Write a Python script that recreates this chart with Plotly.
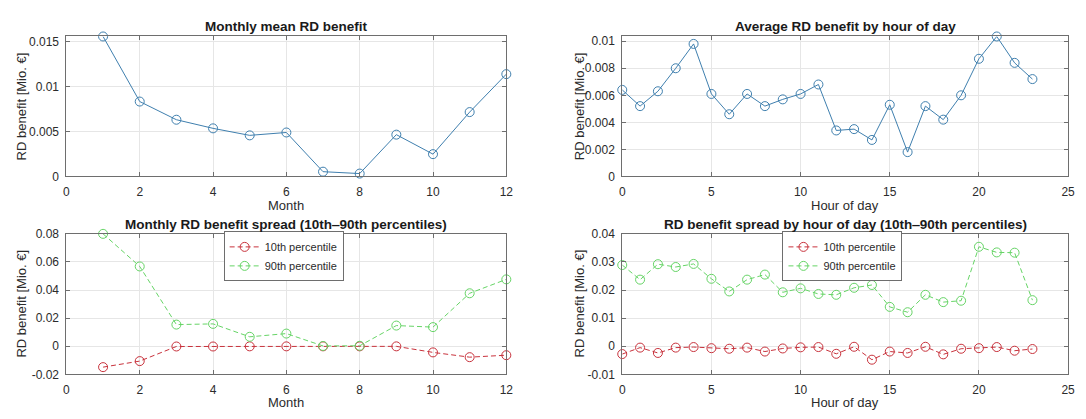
import plotly.graph_objects as go

# ---------------- data ----------------
months = [1, 2, 3, 4, 5, 6, 7, 8, 9, 10, 11, 12]
monthly_mean = [0.01557, 0.00833, 0.00631, 0.00535, 0.00457, 0.00489,
                0.00053, 0.00032, 0.00465, 0.00248, 0.00716, 0.01138]
monthly_p10 = [-0.0149, -0.0106, -0.0002, -0.0002, -0.0001, -0.0001,
               -0.0001, -0.0001, -0.0001, -0.0044, -0.0078, -0.0064]
monthly_p90 = [0.0800, 0.0568, 0.0154, 0.0159, 0.0067, 0.0090,
               0.0002, 0.0003, 0.0147, 0.0136, 0.0377, 0.0476]

hours = list(range(24))
hourly_mean = [0.0064, 0.0052, 0.0063, 0.0080, 0.0098, 0.0061, 0.0046, 0.0061,
               0.0052, 0.0057, 0.0061, 0.0068, 0.0034, 0.0035, 0.0027, 0.0053,
               0.0018, 0.0052, 0.0042, 0.0060, 0.0087, 0.01035, 0.0084, 0.0072]
hourly_p10 = [-0.0028, -0.0005, -0.0024, -0.0005, -0.0003, -0.0007, -0.0009, -0.0005,
              -0.0019, -0.0008, -0.0004, -0.0003, -0.0027, -0.0002, -0.0048, -0.0019,
              -0.0024, -0.0002, -0.0029, -0.0009, -0.0007, -0.0003, -0.0016, -0.0010]
hourly_p90 = [0.0289, 0.0237, 0.0292, 0.0282, 0.0293, 0.0240, 0.0195, 0.0237,
              0.0255, 0.0192, 0.0206, 0.0186, 0.0183, 0.0208, 0.0218, 0.0140,
              0.0121, 0.0183, 0.0157, 0.0162, 0.0354, 0.0334, 0.0333, 0.0164]

# tick labels
month_ticks = [0, 2, 4, 6, 8, 10, 12]
hour_ticks = [0, 5, 10, 15, 20, 25]
tl_yvals = [0, 0.005, 0.01, 0.015]
tl_ytext = ["0", "0.005", "0.01", "0.015"]
tr_yvals = [0, 0.002, 0.004, 0.006, 0.008, 0.01]
tr_ytext = ["0", "0.002", "0.004", "0.006", "0.008", "0.01"]
bl_yvals = [-0.02, 0, 0.02, 0.04, 0.06, 0.08]
bl_ytext = ["-0.02", "0", "0.02", "0.04", "0.06", "0.08"]
br_yvals = [-0.01, 0, 0.01, 0.02, 0.03, 0.04]
br_ytext = ["-0.01", "0", "0.01", "0.02", "0.03", "0.04"]

titles = ["Monthly mean RD benefit",
          "Average RD benefit by hour of day",
          "Monthly RD benefit spread (10th\u201290th percentiles)",
          "RD benefit spread by hour of day (10th\u201290th percentiles)"]
ylabel = "RD benefit [Mio. \u20ac]"
legend_names = ["10th percentile", "90th percentile"]

# ---------------- style ----------------
W, H = 1086, 419
FONT = "Liberation Sans, Arial, Helvetica, sans-serif"
TXT = "#2b2b2b"
BLUE = "#3f7fae"
RED = "#c8323c"
GREEN = "#66d466"
AXC = "#6e6e6e"
GRID = "#e6e6e6"

xl = [64 / W, 508 / W]
xr = [625 / W, 1075 / W]
yt = [1 - 175.3 / H, 1 - 30.5 / H]
yb = [1 - 380 / H, 1 - 234.7 / H]

fig = go.Figure()

def circ(color):
    return dict(symbol="circle-open", size=9, color=color, line=dict(width=1, color=color))

fig.add_trace(go.Scatter(x=months, y=monthly_mean, mode="lines+markers",
                         line=dict(color=BLUE, width=1), marker=circ(BLUE),
                         showlegend=False, cliponaxis=False, xaxis="x", yaxis="y"))
fig.add_trace(go.Scatter(x=hours, y=hourly_mean, mode="lines+markers",
                         line=dict(color=BLUE, width=1), marker=circ(BLUE),
                         showlegend=False, cliponaxis=False, xaxis="x2", yaxis="y2"))
fig.add_trace(go.Scatter(x=months, y=monthly_p10, mode="lines+markers", name=legend_names[0],
                         line=dict(color=RED, width=1, dash="5px,3px"), marker=circ(RED),
                         cliponaxis=False, xaxis="x3", yaxis="y3", legend="legend"))
fig.add_trace(go.Scatter(x=months, y=monthly_p90, mode="lines+markers", name=legend_names[1],
                         line=dict(color=GREEN, width=1, dash="5px,3px"), marker=circ(GREEN),
                         cliponaxis=False, xaxis="x3", yaxis="y3", legend="legend"))
fig.add_trace(go.Scatter(x=hours, y=hourly_p10, mode="lines+markers", name=legend_names[0],
                         line=dict(color=RED, width=1, dash="5px,3px"), marker=circ(RED),
                         cliponaxis=False, xaxis="x4", yaxis="y4", legend="legend2"))
fig.add_trace(go.Scatter(x=hours, y=hourly_p90, mode="lines+markers", name=legend_names[1],
                         line=dict(color=GREEN, width=1, dash="5px,3px"), marker=circ(GREEN),
                         cliponaxis=False, xaxis="x4", yaxis="y4", legend="legend2"))

def xax(domain, anchor, rng, ticks):
    return dict(domain=domain, anchor=anchor, range=rng, tickvals=ticks,
                ticktext=[str(t) for t in ticks], showline=True, linecolor=AXC, linewidth=1,
                mirror="ticks", ticks="inside", ticklen=4, tickcolor=AXC,
                showgrid=True, gridcolor=GRID, zeroline=False, ticklabelstandoff=4,
                tickfont=dict(family=FONT, size=12, color=TXT))

def yax(domain, anchor, rng, vals, text):
    return dict(domain=domain, anchor=anchor, range=rng, tickvals=vals, ticktext=text,
                showline=True, linecolor=AXC, linewidth=1, mirror="ticks", ticks="inside",
                ticklen=4, tickcolor=AXC, showgrid=True, gridcolor=GRID, zeroline=False,
                ticklabelstandoff=4, tickfont=dict(family=FONT, size=12, color=TXT))

leg = dict(font=dict(family=FONT, size=11, color=TXT), bgcolor="white",
           bordercolor=AXC, borderwidth=1, xanchor="left", yanchor="middle",
           tracegroupgap=0, itemwidth=30)

fig.update_layout(
    width=W, height=H, margin=dict(l=0, r=0, t=0, b=0),
    paper_bgcolor="white", plot_bgcolor="white",
    xaxis=xax(xl, "y", [0, 12], month_ticks),
    yaxis=yax(yt, "x", [0, max(monthly_mean)], tl_yvals, tl_ytext),
    xaxis2=xax(xr, "y2", [0, 25], hour_ticks),
    yaxis2=yax(yt, "x2", [0, max(hourly_mean)], tr_yvals, tr_ytext),
    xaxis3=xax(xl, "y3", [0, 12], month_ticks),
    yaxis3=yax(yb, "x3", [-0.02, 0.08], bl_yvals, bl_ytext),
    xaxis4=xax(xr, "y4", [0, 25], hour_ticks),
    yaxis4=yax(yb, "x4", [-0.01, 0.04], br_yvals, br_ytext),
    legend=dict(leg, x=222.7 / W, y=1 - 258 / H),
    legend2=dict(leg, x=786.7 / W, y=1 - 258 / H),
)

anns = []
def txt(x, y, s, size, bold=False, angle=0):
    anns.append(dict(x=x / W, y=1 - y / H, xref="paper", yref="paper", text=("<b>%s</b>" % s) if bold else s,
                     showarrow=False, xanchor="center", yanchor="middle", textangle=angle,
                     font=dict(family=FONT, size=size, color="#1a1a1a" if bold else TXT)))

txt(286, 20.5, titles[0], 13.5, bold=True)
txt(850, 20.5, titles[1], 13.5, bold=True)
txt(286, 225.5, titles[2], 13.5, bold=True)
txt(850, 225.5, titles[3], 13.5, bold=True)
txt(286, 205, "Month", 13)
txt(850, 205, "Hour of day", 13)
txt(286, 409, "Month", 13)
txt(850, 409, "Hour of day", 13)
txt(19, 103, ylabel, 13, angle=-90)
txt(582, 103, ylabel, 13, angle=-90)
txt(19, 307, ylabel, 13, angle=-90)
txt(582, 307, ylabel, 13, angle=-90)
fig.update_layout(annotations=anns)

fig.write_html("out.html", config={"displayModeBar": False},
               post_script="document.body.style.margin='0px';document.body.style.overflow='hidden';")
